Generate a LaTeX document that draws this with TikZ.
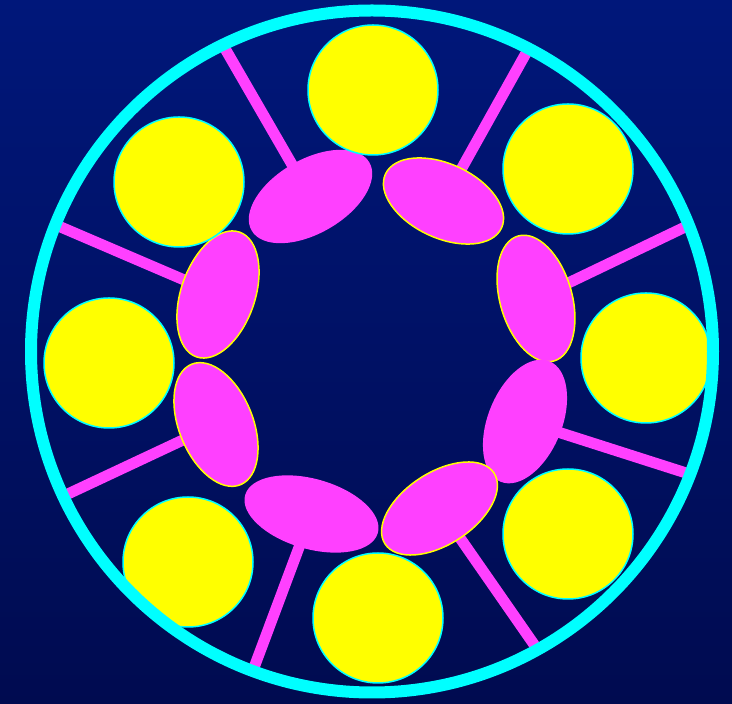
\documentclass[tikz,border=0pt]{standalone}
\usetikzlibrary{shapes.geometric}
\definecolor{bgtop}{HTML}{00177A}
\definecolor{bgbot}{HTML}{000B50}
\definecolor{ringcyan}{HTML}{00FFFF}
\definecolor{headpink}{HTML}{FF40FF}
\definecolor{ballyellow}{HTML}{FFFF00}

\begin{document}
\begin{tikzpicture}[x=1pt, y=1pt,
    ball/.style={circle, fill=ballyellow, draw=ringcyan, line width=1.5pt,
                 minimum size=130pt, inner sep=0pt},
    head/.style={ellipse, fill=headpink, inner sep=0pt},
    rim/.style={draw=ballyellow, line width=1.5pt},
    stem/.style={draw=headpink, line width=11pt, shorten >=-4pt}]
  \fill[top color=bgtop, bottom color=bgbot] (0,0) rectangle (732,704);
  \useasboundingbox (0,0) rectangle (732,704);
  \coordinate (ctr) at (372,352.5);

  % centres of the heads
  \coordinate (pA) at (310.5,507.5);
  \coordinate (pB) at (443.5,503);
  \coordinate (pC) at (536,405.5);
  \coordinate (pD) at (525,282.5);
  \coordinate (pE) at (439.5,195.5);
  \coordinate (pF) at (311.5,190);
  \coordinate (pG) at (216,279.5);
  \coordinate (pH) at (218,409.5);

  % where the stems meet the ring
  \coordinate (tA) at (227,652);
  \coordinate (tB) at (525,649);
  \coordinate (tC) at (683,476);
  \coordinate (tD) at (683,232);
  \coordinate (tE) at (533,61);
  \coordinate (tF) at (255,39);
  \coordinate (tG) at (70,211);
  \coordinate (tH) at (63,476);

  \foreach \s in {A,B,C,D,E,F,G,H}
    \draw[stem] (p\s) -- (t\s);

  % heads
  \node[head, minimum width=136pt, minimum height=74pt, rotate=30] (hA) at (pA) {};
  \node[head, rim, minimum width=128pt, minimum height=74pt, rotate=-25] (hB) at (pB) {};
  \node[head, rim, minimum width=130pt, minimum height=72pt, rotate=106] (hC) at (pC) {};
  \node[head, minimum width=130pt, minimum height=74pt, rotate=68] (hD) at (pD) {};
  \node[head, rim, minimum width=130pt, minimum height=72pt, rotate=33] (hE) at (pE) {};
  \node[head, minimum width=138pt, minimum height=70pt, rotate=-16] (hF) at (pF) {};
  \node[head, rim, minimum width=130pt, minimum height=74pt, rotate=112] (hG) at (pG) {};
  \node[head, rim, minimum width=132pt, minimum height=74pt, rotate=71] (hH) at (pH) {};

  % balls
  \node[ball] (b1) at (373,614) {};
  \node[ball] (b2) at (568,535) {};
  \node[ball] (b3) at (646,346) {};
  \node[ball] (b4) at (568,170) {};
  \node[ball] (b5) at (378,86) {};
  \node[ball] (b6) at (188,142) {};
  \node[ball] (b7) at (109,341) {};
  \node[ball] (b8) at (179,522) {};

  % outer ring
  \draw[ringcyan, line width=12pt] (ctr) circle[radius=341];
\end{tikzpicture}
\end{document}
